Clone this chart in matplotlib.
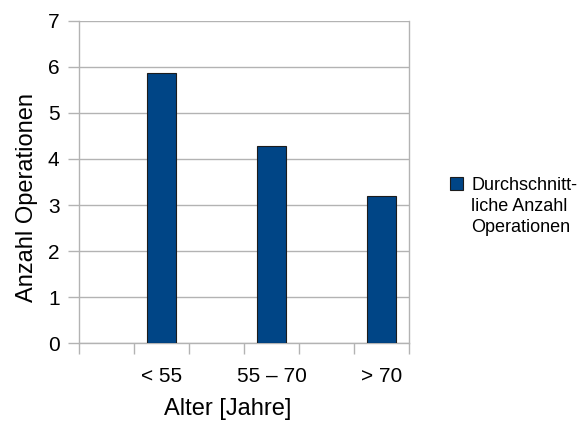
import matplotlib
matplotlib.use("Agg")
import matplotlib.pyplot as plt
from matplotlib.patches import Patch

plt.rcParams['font.family'] = ['Liberation Sans', 'DejaVu Sans']

categories = ["", "< 55", "", "55 – 70", "", "> 70"]
values = [None, 5.87, None, 4.29, None, 3.19]
series_label = "Durchschnitt-\nliche Anzahl\nOperationen"
y_ticks = [0, 1, 2, 3, 4, 5, 6, 7]

bar_color = "#004586"
grid_color = "#b3b3b3"

fig = plt.figure(figsize=(5.79, 4.23), dpi=100)
ax = fig.add_axes([79/579, 1 - 343.3/423, (409-79)/579, (343.3-20.7)/423])

xs = [i for i, v in enumerate(values) if v is not None]
vs = [v for v in values if v is not None]
ax.bar(xs, vs, width=0.52, color=bar_color, edgecolor="#1c1c1c", linewidth=0.8, zorder=3)

ax.set_xlim(-0.5, len(categories) - 0.5)
ax.set_ylim(0, 7)
ax.set_yticks(y_ticks)
ax.yaxis.grid(True, color=grid_color, linewidth=1.0, zorder=0)
ax.tick_params(axis='y', length=8, color=grid_color, width=1.0, labelsize=15, pad=6)

ax.set_xticks(range(len(categories)))
ax.set_xticklabels(categories)
ax.set_xticks([i - 0.5 for i in range(len(categories) + 1)], minor=True)
ax.tick_params(axis='x', which='major', length=0, labelsize=15, pad=17)
ax.tick_params(axis='x', which='minor', length=8, color=grid_color, width=1.0)

for s in ['left', 'right', 'bottom']:
    ax.spines[s].set_color(grid_color)
    ax.spines[s].set_linewidth(1.0)
ax.spines['top'].set_visible(False)

ax.set_xlabel("Alter [Jahre]", fontsize=17)
ax.set_ylabel("Anzahl Operationen", fontsize=17)
ax.xaxis.set_label_coords(0.452, -0.171)
ax.yaxis.set_label_coords(-0.124, 0.452)

lines = series_label.split("\n")
handles = [Patch(facecolor=bar_color, edgecolor="#1c1c1c", linewidth=0.8)] + \
          [Patch(facecolor="none", edgecolor="none") for _ in lines[1:]]
leg = fig.legend(handles, lines, loc="upper left", bbox_to_anchor=(450/579, 1 - 177/423),
                 frameon=False, fontsize=13, handlelength=0.72, handleheight=0.72,
                 handletextpad=0.45, labelspacing=0.22, borderpad=0, borderaxespad=0)

fig.savefig("out.png", dpi=100)
